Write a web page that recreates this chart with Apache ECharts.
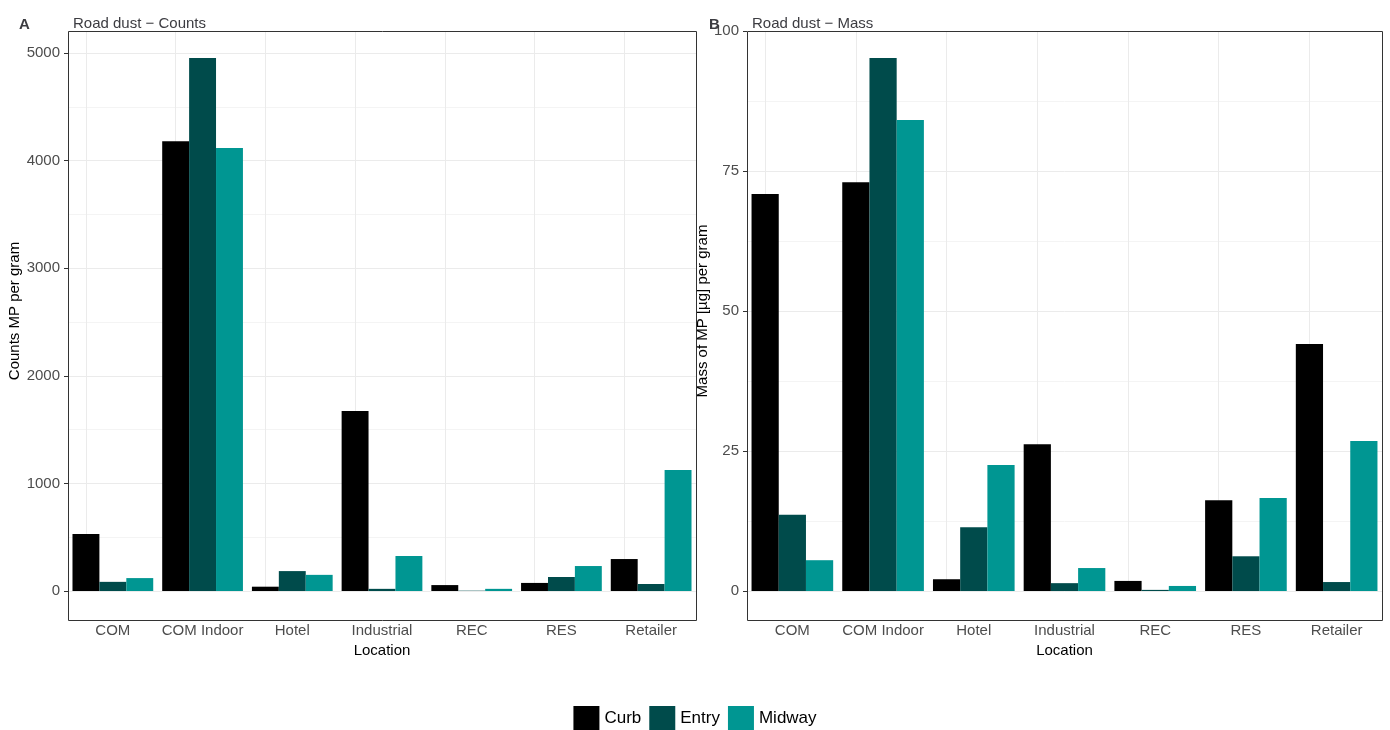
<!DOCTYPE html>
<html><head><meta charset="utf-8">
<script src="https://cdn.jsdelivr.net/npm/echarts@6/dist/echarts.min.js"></script>
<style>html,body{margin:0;padding:0;background:#fff}#c{width:1390px;height:730px}</style>
</head><body><div id="c"></div>
<script>
// values
var locations = ['COM', 'COM Indoor', 'Hotel', 'Industrial', 'REC', 'RES', 'Retailer'];
var countsCurb = [530, 4180, 40, 1673, 55, 75, 297];
var countsEntry = [85, 4953, 185, 20, 3, 130, 65];
var countsMidway = [120, 4117, 150, 325, 20, 232, 1125];
var massCurb = [70.9, 73.0, 2.1, 26.2, 1.8, 16.2, 44.1];
var massEntry = [13.6, 95.2, 11.4, 1.4, 0.2, 6.2, 1.6];
var massMidway = [5.5, 84.1, 22.5, 4.1, 0.9, 16.6, 26.8];
var colors = { Curb: '#000000', Entry: '#004b4b', Midway: '#009692' };

var font = 'Liberation Sans, Arial, sans-serif';
var chart = echarts.init(document.getElementById('c'));

function xAxis(idx) {
    return {
        type: 'category', gridIndex: idx, data: locations, offset: 29,
        name: 'Location', nameLocation: 'middle', nameGap: 12,
        nameTextStyle: { color: '#000', fontSize: 15, fontFamily: font },
        axisLine: { show: false },
        axisTick: { show: false },
        axisLabel: { interval: 0, color: '#4d4d4d', fontSize: 15, fontFamily: font, margin: 3 },
        splitLine: { show: false }
    };
}
function yAxis(idx, max, interval, name) {
    return {
        type: 'value', gridIndex: idx, min: 0, max: max, interval: interval,
        name: name, nameLocation: 'middle', nameGap: idx ? 21 : 35,
        nameTextStyle: { color: '#000', fontSize: 15, fontFamily: font },
        axisLine: { show: false },
        axisTick: { show: true, length: 4, lineStyle: { color: '#333' } },
        axisLabel: { color: '#4d4d4d', fontSize: 15, fontFamily: font, showMaxLabel: idx === 1, formatter: function (v) { return String(v); } },
        splitLine: { show: true, lineStyle: { color: '#ebebeb' } },
        minorTick: { show: false, splitNumber: 2 },
        minorSplitLine: { show: true, lineStyle: { color: '#f4f4f4' } }
    };
}
function bars(name, data, idx, withLines) {
    var s = {
        name: name, type: 'bar', xAxisIndex: idx, yAxisIndex: idx, data: data,
        barGap: '0%', barCategoryGap: '10%', itemStyle: { color: colors[name] }, z: 3
    };
    if (withLines) {
        s.markLine = {
            silent: true, symbol: 'none', label: { show: false }, animation: false,
            lineStyle: { color: '#ebebeb', type: 'solid', width: 1 }, z: 1,
            data: locations.map(function (l) { return { xAxis: l }; })
        };
    }
    return s;
}

chart.setOption({
    animation: false,
    color: [colors.Curb, colors.Entry, colors.Midway],
    title: [
        { text: 'A', left: 14, top: 12, textStyle: { fontSize: 15, fontWeight: 'bold', fontFamily: font } },
        { text: 'Road dust \u2212 Counts', left: 68, top: 11, textStyle: { fontSize: 15, fontWeight: 'normal', fontFamily: font } },
        { text: 'B', left: 704, top: 12, textStyle: { fontSize: 15, fontWeight: 'bold', fontFamily: font } },
        { text: 'Road dust \u2212 Mass', left: 747, top: 11, textStyle: { fontSize: 15, fontWeight: 'normal', fontFamily: font } }
    ],
    legend: {
        top: 706, left: 'center', itemWidth: 26, itemHeight: 24, itemGap: 8, padding: 0,
        icon: 'rect', textStyle: { fontSize: 17, fontFamily: font, color: '#000' },
        data: ['Curb', 'Entry', 'Midway']
    },
    graphic: [
        { type: 'rect', shape: { x: 68.5, y: 31.5, width: 628, height: 589 }, style: { fill: 'none', stroke: '#333', lineWidth: 1 }, z: 10 },
        { type: 'rect', shape: { x: 747.5, y: 31.5, width: 635, height: 589 }, style: { fill: 'none', stroke: '#333', lineWidth: 1 }, z: 10 }
    ],
    grid: [
        { left: 68, right: 694, top: 31, bottom: 139 },
        { left: 747, right: 8, top: 31, bottom: 139 }
    ],
    xAxis: [xAxis(0), xAxis(1)],
    yAxis: [
        yAxis(0, 5204, 1000, 'Counts MP per gram'),
        yAxis(1, 100, 25, 'Mass of MP [\u00b5g] per gram')
    ],
    series: [
        bars('Curb', countsCurb, 0, true),
        bars('Entry', countsEntry, 0),
        bars('Midway', countsMidway, 0),
        bars('Curb', massCurb, 1, true),
        bars('Entry', massEntry, 1),
        bars('Midway', massMidway, 1)
    ]
});
</script>
</body></html>
